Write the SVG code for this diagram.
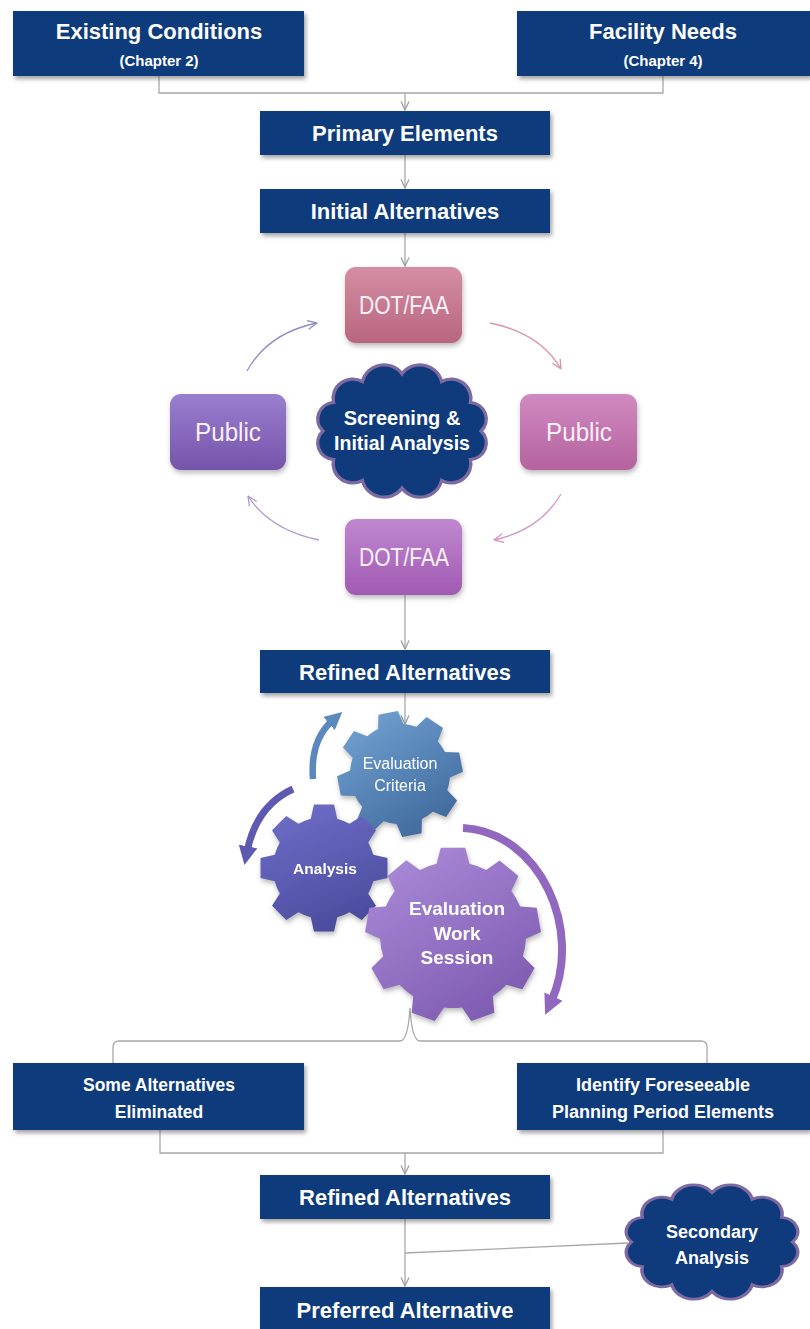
<svg xmlns="http://www.w3.org/2000/svg" width="810" height="1329" viewBox="0 0 810 1329">
<style>
.bx{fill:#0f3b7b;filter:url(#sh)}
.bt{font-family:"Liberation Sans",Arial,sans-serif;font-weight:bold;fill:#ffffff;text-anchor:middle}
.ct{font-family:"Liberation Sans",Arial,sans-serif;fill:#f8f0f6;text-anchor:middle;font-size:26px}
.gt{font-family:"Liberation Sans",Arial,sans-serif;fill:#ffffff;text-anchor:middle}
.cn{fill:none;stroke:#a8a8a8;stroke-width:1.3}
.cloud{fill:#0f3b7d;stroke:#7d6aa0;stroke-width:3}
.cyc{fill:none;stroke-width:1.3}
</style>
<defs>
<filter id="sh" x="-10%" y="-10%" width="125%" height="140%">
<feDropShadow dx="2" dy="3" stdDeviation="2" flood-color="#555" flood-opacity="0.55"/>
</filter>
<filter id="sh2" x="-15%" y="-15%" width="135%" height="140%">
<feDropShadow dx="1" dy="3" stdDeviation="2.5" flood-color="#666" flood-opacity="0.45"/>
</filter>
<linearGradient id="gTop" x1="0" y1="0" x2="0" y2="1"><stop offset="0" stop-color="#d48ea3"/><stop offset="1" stop-color="#b8667f"/></linearGradient>
<linearGradient id="gRight" x1="0" y1="0" x2="0" y2="1"><stop offset="0" stop-color="#d08ac0"/><stop offset="1" stop-color="#b5629e"/></linearGradient>
<linearGradient id="gBot" x1="0" y1="0" x2="0" y2="1"><stop offset="0" stop-color="#c088d0"/><stop offset="1" stop-color="#a15ab2"/></linearGradient>
<linearGradient id="gLeft" x1="0" y1="0" x2="0" y2="1"><stop offset="0" stop-color="#9a7ed0"/><stop offset="1" stop-color="#7554aa"/></linearGradient>
<linearGradient id="gEC" x1="0.3" y1="0" x2="0.7" y2="1"><stop offset="0" stop-color="#6e9ecf"/><stop offset="1" stop-color="#40699c"/></linearGradient>
<linearGradient id="gAN" x1="0.3" y1="0" x2="0.7" y2="1"><stop offset="0" stop-color="#6d6cc6"/><stop offset="1" stop-color="#4a4a9c"/></linearGradient>
<linearGradient id="gBG" x1="0.3" y1="0" x2="0.7" y2="1"><stop offset="0" stop-color="#a887d6"/><stop offset="1" stop-color="#7d5bb0"/></linearGradient>
<marker id="vh" viewBox="0 0 10 10" refX="9.5" refY="5" markerUnits="userSpaceOnUse" markerWidth="10" markerHeight="10" orient="auto">
<path d="M1,1 L9.5,5 L1,9" fill="none" stroke="#a0a0a0" stroke-width="1.3"/>
</marker>
<marker id="vhB" viewBox="0 0 10 10" refX="9.5" refY="5" markerUnits="userSpaceOnUse" markerWidth="11" markerHeight="11" orient="auto">
<path d="M1,1 L9.5,5 L1,9" fill="none" stroke="#8f8cc8" stroke-width="1.2"/>
</marker>
<marker id="vhP" viewBox="0 0 10 10" refX="9.5" refY="5" markerUnits="userSpaceOnUse" markerWidth="11" markerHeight="11" orient="auto">
<path d="M1,1 L9.5,5 L1,9" fill="none" stroke="#d895ad" stroke-width="1.2"/>
</marker>
<marker id="vhM" viewBox="0 0 10 10" refX="9.5" refY="5" markerUnits="userSpaceOnUse" markerWidth="11" markerHeight="11" orient="auto">
<path d="M1,1 L9.5,5 L1,9" fill="none" stroke="#d497c4" stroke-width="1.2"/>
</marker>
<marker id="vhL" viewBox="0 0 10 10" refX="9.5" refY="5" markerUnits="userSpaceOnUse" markerWidth="11" markerHeight="11" orient="auto">
<path d="M1,1 L9.5,5 L1,9" fill="none" stroke="#b497cf" stroke-width="1.2"/>
</marker>
<marker id="thB" viewBox="0 0 10 10" refX="3" refY="5" markerUnits="strokeWidth" markerWidth="2.7" markerHeight="2.7" orient="auto">
<path d="M0,0 L10,5 L0,10 Z" fill="#5b88bd"/>
</marker>
<marker id="thI" viewBox="0 0 10 10" refX="3" refY="5" markerUnits="strokeWidth" markerWidth="2.7" markerHeight="2.7" orient="auto">
<path d="M0,0 L10,5 L0,10 Z" fill="#5d5ab2"/>
</marker>
<marker id="thV" viewBox="0 0 10 10" refX="3" refY="5" markerUnits="strokeWidth" markerWidth="2.5" markerHeight="2.5" orient="auto">
<path d="M0,0 L10,5 L0,10 Z" fill="#9167c0"/>
</marker>
<path id="cloudP" d="M70,0 A15.2,15.2 0 0 1 60.6,26 A17.5,17.5 0 0 1 35,45 A19.6,19.6 0 0 1 0,52 A19.6,19.6 0 0 1 -35,45 A17.5,17.5 0 0 1 -60.6,26 A15.2,15.2 0 0 1 -70,0 A15.2,15.2 0 0 1 -60.6,-26 A17.5,17.5 0 0 1 -35,-45 A19.6,19.6 0 0 1 0,-52 A19.6,19.6 0 0 1 35,-45 A17.5,17.5 0 0 1 60.6,-26 A15.2,15.2 0 0 1 70,0 Z"/>
<path id="gear8" d="M48.30,-12.94 L62.22,-9.85 L62.22,9.85 L48.30,12.94 A50,50 0 0 1 43.30,25 L50.97,37.03 L37.03,50.97 L25,43.30 A50,50 0 0 1 12.94,48.30 L9.85,62.22 L-9.85,62.22 L-12.94,48.30 A50,50 0 0 1 -25,43.30 L-37.03,50.97 L-50.97,37.03 L-43.30,25 A50,50 0 0 1 -48.30,12.94 L-62.22,9.85 L-62.22,-9.85 L-48.30,-12.94 A50,50 0 0 1 -43.30,-25 L-50.97,-37.03 L-37.03,-50.97 L-25,-43.30 A50,50 0 0 1 -12.94,-48.30 L-9.85,-62.22 L9.85,-62.22 L12.94,-48.30 A50,50 0 0 1 25,-43.30 L37.03,-50.97 L50.97,-37.03 L43.30,-25 A50,50 0 0 1 48.30,-12.94 Z"/>
</defs>

<rect width="810" height="1329" fill="#ffffff"/>

<g id="connectors">
<path class="cn" d="M159,76 V93 H663 V76"/>
<path class="cn" d="M405,93 V110" marker-end="url(#vh)"/>
<path class="cn" d="M405,155 V188" marker-end="url(#vh)"/>
<path class="cn" d="M405,233 V266" marker-end="url(#vh)"/>
<path class="cyc" stroke="#8f8cc8" d="M247,371 Q268,333 317,323" marker-end="url(#vhB)"/>
<path class="cyc" stroke="#d895ad" d="M490,323 Q540,333 561,369" marker-end="url(#vhP)"/>
<path class="cyc" stroke="#d497c4" d="M561,494 Q540,530 494,540" marker-end="url(#vhM)"/>
<path class="cyc" stroke="#b497cf" d="M319,540 Q270,530 248,496" marker-end="url(#vhL)"/>
<path class="cn" d="M405,595 V649" marker-end="url(#vh)"/>
<path class="cn" d="M405,693 V724" marker-end="url(#vh)"/>
<path fill="none" stroke="#5b88bd" stroke-width="6.5" d="M313,779 Q310,740 333,720" marker-end="url(#thB)"/>
<path fill="none" stroke="#5d5ab2" stroke-width="7" d="M293,789 Q256,806 247,852" marker-end="url(#thI)"/>
<path fill="none" stroke="#9167c0" stroke-width="8" d="M463,828 C540,832 584,930 551,1002" marker-end="url(#thV)"/>
<path class="cn" d="M113,1063 V1047 Q113,1041 119,1041 H400 Q408,1041 410,1008 Q412,1041 420,1041 H701 Q707,1041 707,1047 V1063"/>
<path class="cn" d="M160,1130 V1153 H663 V1130"/>
<path class="cn" d="M405,1153 V1174" marker-end="url(#vh)"/>
<path class="cn" d="M405,1219 V1286" marker-end="url(#vh)"/>
<path class="cn" d="M405,1253 L628,1243"/>
</g>

<g id="existing-conditions">
<rect class="bx" x="13" y="11" width="291" height="65"/>
<text class="bt" x="159" y="39" font-size="22">Existing Conditions</text>
<text class="bt" x="159" y="66" font-size="15">(Chapter 2)</text>
</g>
<g id="facility-needs">
<rect class="bx" x="517" y="11" width="293" height="65"/>
<text class="bt" x="663" y="39" font-size="22">Facility Needs</text>
<text class="bt" x="663" y="66" font-size="15">(Chapter 4)</text>
</g>
<g id="primary-elements">
<rect class="bx" x="260" y="111" width="290" height="44"/>
<text class="bt" x="405" y="141" font-size="22">Primary Elements</text>
</g>
<g id="initial-alternatives">
<rect class="bx" x="260" y="189" width="290" height="44"/>
<text class="bt" x="405" y="219" font-size="22">Initial Alternatives</text>
</g>

<g id="dotfaa-top">
<rect x="345" y="267" width="117" height="76" rx="11" fill="url(#gTop)" filter="url(#sh2)"/>
<text class="ct" x="404" y="314" textLength="90" lengthAdjust="spacingAndGlyphs">DOT/FAA</text>
</g>
<g id="public-right">
<rect x="520" y="394" width="117" height="76" rx="11" fill="url(#gRight)" filter="url(#sh2)"/>
<text class="ct" x="579" y="441" textLength="66" lengthAdjust="spacingAndGlyphs">Public</text>
</g>
<g id="dotfaa-bottom">
<rect x="345" y="519" width="117" height="76" rx="11" fill="url(#gBot)" filter="url(#sh2)"/>
<text class="ct" x="404" y="566" textLength="90" lengthAdjust="spacingAndGlyphs">DOT/FAA</text>
</g>
<g id="public-left">
<rect x="170" y="394" width="116" height="76" rx="11" fill="url(#gLeft)" filter="url(#sh2)"/>
<text class="ct" x="228" y="441" textLength="66" lengthAdjust="spacingAndGlyphs">Public</text>
</g>
<g id="screening">
<use href="#cloudP" class="cloud" transform="translate(402,431) scale(1.13,1.1)"/>
<text class="bt" x="402" y="425" font-size="20">Screening &amp;</text>
<text class="bt" x="402" y="450" font-size="19.5">Initial Analysis</text>
</g>

<g id="refined-alternatives-1">
<rect class="bx" x="260" y="650" width="290" height="43"/>
<text class="bt" x="405" y="680" font-size="22">Refined Alternatives</text>
</g>

<g id="gear-evaluation-criteria" filter="url(#sh2)">
<use href="#gear8" fill="url(#gEC)" transform="translate(400,774) rotate(-11)"/>
<text class="gt" x="400" y="769" font-size="16">Evaluation</text>
<text class="gt" x="400" y="791" font-size="16">Criteria</text>
</g>
<g id="gear-analysis" filter="url(#sh2)">
<use href="#gear8" fill="url(#gAN)" transform="translate(324,868) scale(1.02)"/>
<text class="gt" x="325" y="874" font-size="15.5" font-weight="bold">Analysis</text>
</g>
<g id="gear-evaluation-work-session" filter="url(#sh2)">
<path fill="url(#gBG)" transform="translate(453,935) rotate(-10)" d="M71.13,-16.43 L87.15,-12.25 L87.15,12.25 L71.13,16.43 A73,73 0 0 1 65.04,33.14 L74.62,46.63 L58.88,65.39 L43.93,58.30 A73,73 0 0 1 28.52,67.20 L27.19,83.70 L3.07,87.95 L-3.82,72.90 A73,73 0 0 1 -21.35,69.81 L-32.96,81.59 L-54.18,69.34 L-49.79,53.39 A73,73 0 0 1 -61.23,39.76 L-77.70,41.32 L-86.07,18.30 L-72.45,8.90 A73,73 0 0 1 -72.45,-8.90 L-86.07,-18.30 L-77.70,-41.32 L-61.23,-39.76 A73,73 0 0 1 -49.79,-53.39 L-54.18,-69.34 L-32.96,-81.59 L-21.35,-69.81 A73,73 0 0 1 -3.82,-72.90 L3.07,-87.95 L27.19,-83.70 L28.52,-67.20 A73,73 0 0 1 43.93,-58.30 L58.88,-65.39 L74.62,-46.63 L65.04,-33.14 A73,73 0 0 1 71.13,-16.43 Z"/>
<text class="gt" x="457" y="915" font-size="19" font-weight="bold">Evaluation</text>
<text class="gt" x="457" y="940" font-size="19" font-weight="bold">Work</text>
<text class="gt" x="457" y="964" font-size="19" font-weight="bold">Session</text>
</g>

<g id="some-alternatives-eliminated">
<rect class="bx" x="13" y="1063" width="291" height="67"/>
<text class="bt" x="159" y="1091" font-size="17.5">Some Alternatives</text>
<text class="bt" x="159" y="1118" font-size="17.5">Eliminated</text>
</g>
<g id="identify-foreseeable">
<rect class="bx" x="517" y="1063" width="293" height="67"/>
<text class="bt" x="663" y="1091" font-size="18">Identify Foreseeable</text>
<text class="bt" x="663" y="1118" font-size="18">Planning Period Elements</text>
</g>
<g id="refined-alternatives-2">
<rect class="bx" x="260" y="1175" width="290" height="44"/>
<text class="bt" x="405" y="1205" font-size="22">Refined Alternatives</text>
</g>
<g id="secondary-analysis">
<use href="#cloudP" class="cloud" transform="translate(712,1242) scale(1.15,0.95)"/>
<text class="bt" x="712" y="1238" font-size="18">Secondary</text>
<text class="bt" x="712" y="1264" font-size="18">Analysis</text>
</g>
<g id="preferred-alternative">
<rect class="bx" x="260" y="1287" width="290" height="50"/>
<text class="bt" x="405" y="1318" font-size="22">Preferred Alternative</text>
</g>
</svg>
